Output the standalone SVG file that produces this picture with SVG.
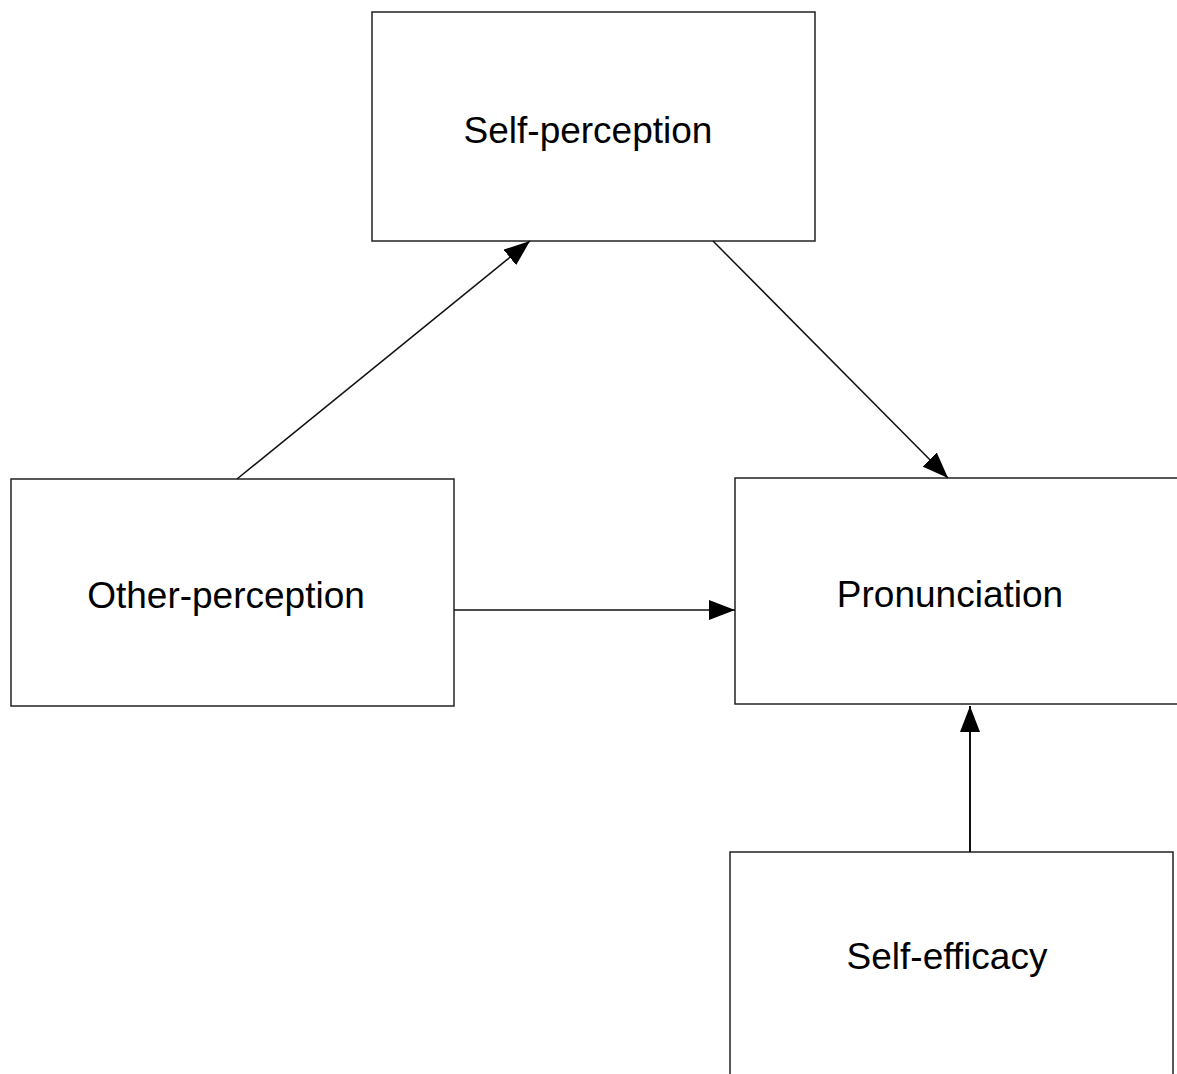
<svg xmlns="http://www.w3.org/2000/svg" width="1177" height="1074" viewBox="0 0 1177 1074">
<style>
.box{fill:#fff;stroke:#222;stroke-width:1.5}
.lbl{font-family:"Liberation Sans",Arial,sans-serif;font-size:37px;fill:#000;text-anchor:middle}
.edge{stroke:#111;stroke-width:1.5;fill:none;marker-end:url(#ah)}
</style>
<defs>
<marker id="ah" viewBox="0 0 26 20" refX="26" refY="10" markerWidth="26" markerHeight="20" markerUnits="userSpaceOnUse" orient="auto">
<path d="M0,0 L26,10 L0,20 Z" fill="#000"/>
</marker>
</defs>
<rect width="1177" height="1074" fill="#fff"/>
<g id="self-perception">
<rect class="box" x="372" y="12" width="443" height="229"/>
<text class="lbl" x="588" y="143">Self-perception</text>
</g>
<g id="other-perception">
<rect class="box" x="11" y="479" width="443" height="227"/>
<text class="lbl" x="226" y="608">Other-perception</text>
</g>
<g id="pronunciation">
<rect class="box" x="735" y="478" width="450" height="226"/>
<text class="lbl" x="950" y="607">Pronunciation</text>
</g>
<g id="self-efficacy">
<rect class="box" x="730" y="852" width="443" height="240"/>
<text class="lbl" x="947" y="969">Self-efficacy</text>
</g>
<g id="connectors">
<path class="edge" d="M237,479 L530,241"/>
<path class="edge" d="M713,241 L948,478"/>
<path class="edge" d="M454,610 L735,610"/>
<path class="edge" style="stroke-width:2" d="M970,852 L970,706"/>
</g>
</svg>
